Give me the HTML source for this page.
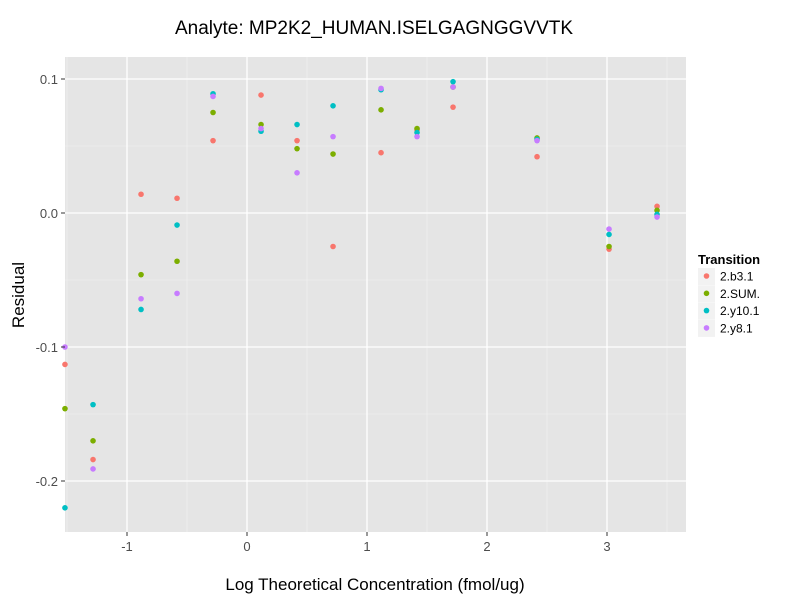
<!DOCTYPE html>
<html><head><meta charset="utf-8"><style>
body{margin:0;background:#fff;font-family:"Liberation Sans",Arial,sans-serif}
svg text{font-family:"Liberation Sans",Arial,sans-serif}
</style></head><body>
<svg id="chart" width="800" height="600">
<text x="374" y="34" font-size="19" text-anchor="middle" fill="#000">Analyte: MP2K2_HUMAN.ISELGAGNGGVVTK</text>
<rect x="65" y="57" width="621" height="475" fill="#e5e5e5"/>
<g id="grid"></g><g id="pts"></g><g id="axes"></g>
<text x="375" y="590" font-size="17" text-anchor="middle">Log Theoretical Concentration (fmol/ug)</text>
<text transform="translate(24,295) rotate(-90)" font-size="17" text-anchor="middle">Residual</text>
<g id="legend"></g>
</svg>
<script>
const xVals=[-1.517,-1.283,-0.883,-0.583,-0.283,0.117,0.417,0.717,1.117,1.417,1.717,2.417,3.017,3.417];
const seriesNames=["2.b3.1","2.SUM.","2.y10.1","2.y8.1"];
const colors=["#F8766D","#7CAE00","#00BFC4","#C77CFF"];
const b31=[-0.113,-0.184,0.014,0.011,0.054,0.088,0.054,-0.025,0.045,0.062,0.079,0.042,-0.027,0.005];
const sum=[-0.146,-0.170,-0.046,-0.036,0.075,0.066,0.048,0.044,0.077,0.063,0.094,0.056,-0.025,0.002];
const y101=[-0.220,-0.143,-0.072,-0.009,0.089,0.061,0.066,0.080,0.092,0.060,0.098,0.055,-0.016,-0.001];
const y81=[-0.100,-0.191,-0.064,-0.060,0.087,0.063,0.030,0.057,0.093,0.057,0.094,0.054,-0.012,-0.003];
const xTicks=[-1,0,1,2,3];
const yTicks=[0.1,0.0,-0.1,-0.2];
const yTickLabels=["0.1","0.0","-0.1","-0.2"];
const L=65,R=686,T=57,B=532;
const sx=v=>247+v*120, sy=v=>213-v*1340;
const NS="http://www.w3.org/2000/svg";
function mk(tag,attrs,parent){const e=document.createElementNS(NS,tag);for(const k in attrs)e.setAttribute(k,attrs[k]);parent.appendChild(e);return e;}
const grid=document.getElementById('grid'),axes=document.getElementById('axes');
// minor grid
for(let v=-1.5;v<=3.5;v+=1){const x=sx(v);if(x>L&&x<R){const l=mk('line',{x1:x,x2:x,y1:T,y2:B,stroke:"#f2f2f2","stroke-width":0.6},grid);}}
for(let v=-0.25;v<=0.15;v+=0.1){const y=sy(v);if(y>T&&y<B){const l=mk('line',{x1:L,x2:R,y1:y,y2:y,stroke:"#f2f2f2","stroke-width":0.6},grid);}}
xTicks.forEach(v=>{const x=sx(v);
const g=mk('line',{x1:x,x2:x,y1:T,y2:B,stroke:"#fff","stroke-width":1.3},grid);
const t=mk('line',{x1:x,x2:x,y1:B,y2:B+4,stroke:"#333","stroke-width":1},axes);
const tx=mk('text',{x:x,y:B+19,"font-size":13,"text-anchor":"middle",fill:"#4d4d4d"},axes);tx.textContent=String(v);});
yTicks.forEach((v,i)=>{const y=sy(v);
const g=mk('line',{x1:L,x2:R,y1:y,y2:y,stroke:"#fff","stroke-width":1.3},grid);
const t=mk('line',{x1:L-4,x2:L,y1:y,y2:y,stroke:"#333","stroke-width":1},axes);
const tx=mk('text',{x:L-7,y:y+5,"font-size":13,"text-anchor":"end",fill:"#4d4d4d"},axes);tx.textContent=yTickLabels[i];});
const pts=document.getElementById('pts');
[b31,sum,y101,y81].forEach((s,si)=>{s.forEach((v,i)=>{const c=mk('circle',{cx:sx(xVals[i]),cy:sy(v),r:2.8,fill:colors[si]},pts);

});});
const lg=document.getElementById('legend');
const lt=mk('text',{x:698,y:264,"font-size":13,"font-weight":"bold"},lg);lt.textContent="Transition";
seriesNames.forEach((n,i)=>{const y=276+i*17.3;
const bg=mk('rect',{x:698,y:y-8,width:17,height:17,fill:"#f2f2f2"},lg);
const c=mk('circle',{cx:706.5,cy:y,r:2.8,fill:colors[i]},lg);
const t=mk('text',{x:720,y:y+4.5,"font-size":12},lg);t.textContent=n;});
</script>
</body></html>
